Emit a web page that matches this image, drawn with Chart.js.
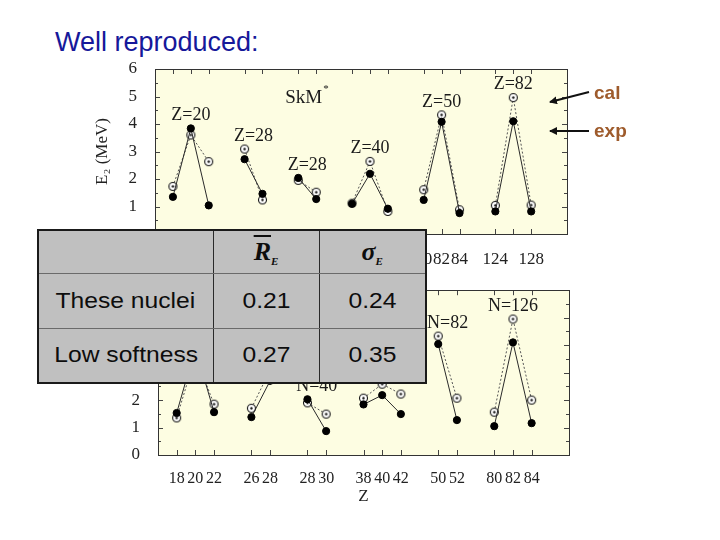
<!DOCTYPE html>
<html>
<head>
<meta charset="utf-8">
<script src="https://cdn.jsdelivr.net/npm/chart.js@4/dist/chart.umd.min.js"></script>
<style>
html,body{margin:0;padding:0;background:#fff;}
body{width:720px;height:540px;position:relative;overflow:hidden;font-family:"Liberation Sans",Arial,sans-serif;}
#title{position:absolute;left:55px;top:27px;font-size:27px;line-height:30px;color:#16189a;white-space:nowrap;}
canvas{position:absolute;left:0;}
#cTop{top:0;}
#cBot{top:270px;}
#tbl{position:absolute;left:37px;top:229px;width:388px;height:154px;border-collapse:collapse;background:#c0c0c0;border:2px solid #1a1a1a;table-layout:fixed;}
#tbl td{text-align:center;vertical-align:middle;padding:0;border-left:1.5px solid #2a2a2a;border-right:1.5px solid #2a2a2a;border-top:1px solid #6a6a6a;border-bottom:1px solid #6a6a6a;color:#0d0d0d;font-size:22px;}
#tbl td span.s{display:inline-block;transform:scaleX(1.12);}
#tbl td.m{font-family:"Liberation Serif","Times New Roman",serif;font-weight:bold;font-style:italic;font-size:26px;}
#tbl td.m sub{font-size:11px;vertical-align:-5px;}
.ov{text-decoration:overline;}
.lab{position:absolute;font-weight:bold;font-size:19px;color:#9e5b2c;line-height:20px;}
svg{position:absolute;left:0;top:0;}
</style>
</head>
<body>
<div id="title">Well reproduced:</div>
<canvas id="cTop" width="720" height="264"></canvas>
<canvas id="cBot" width="720" height="250"></canvas>
<table id="tbl"></table>
<svg width="720" height="540">
  <defs>
    <marker id="ah" markerWidth="8" markerHeight="8" refX="7" refY="4" orient="auto" markerUnits="userSpaceOnUse">
      <path d="M0,0 L8,4 L0,8 z" fill="#111"/>
    </marker>
  </defs>
  <line x1="589" y1="92" x2="550" y2="102" stroke="#111" stroke-width="2" marker-end="url(#ah)"/>
  <line x1="589" y1="131" x2="550" y2="131" stroke="#111" stroke-width="2" marker-end="url(#ah)"/>
</svg>
<div class="lab" style="left:594px;top:83px;">cal</div>
<div class="lab" style="left:594px;top:121px;">exp</div>

<script>
// ---------- data: top panel (isotopes, E2 vs N) ----------
const topGroupLabels = ['Z=20', 'Z=28', 'Z=28', 'Z=40', 'Z=50', 'Z=82'];
const topN   = [[26, 28, 30], [28, 30], [40, 42], [48, 50, 52], [80, 82, 84], [124, 126, 128]];
const topTickLabels = [['26', '28', '30'], ['28', '30'], ['40', '42'], ['48', '50', '52'], ['80', '82', '84'], ['124', '', '128']];
const topExp = [[1.35, 3.84, 1.04], [2.72, 1.46], [2.04, 1.27], [1.10, 2.19, 0.92], [1.24, 4.08, 0.76], [0.82, 4.10, 0.82]];
const topCal = [[1.73, 3.60, 2.63], [3.09, 1.24], [1.95, 1.52], [1.12, 2.64, 0.82], [1.61, 4.33, 0.88], [1.04, 4.96, 1.05]];

// ---------- data: bottom panel (isotones, E2 vs Z) ----------
const botGroupLabels = ['N=20', 'N=28', 'N=40', 'N=50', 'N=82', 'N=126'];
const botZ   = [[18, 20, 22], [26, 28], [28, 30], [38, 40, 42], [50, 52], [80, 82, 84]];
const botExp = [[1.53, 3.90, 1.56], [1.38, 2.70], [2.03, 0.87], [1.84, 2.18, 1.49], [4.04, 1.27], [1.05, 4.10, 1.16]];
const botCal = [[1.35, 3.60, 1.85], [1.70, 3.09], [1.90, 1.49], [2.07, 2.58, 2.22], [4.33, 2.07], [1.56, 4.95, 2.00]];

// ---------- table ----------
const tableRows  = ['These nuclei', 'Low softness'];
const tableRE    = ['0.21', '0.27'];
const tableSigma = ['0.24', '0.35'];

// build table
(function(){
  const t = document.getElementById('tbl');
  let h = '<colgroup><col style="width:175px"><col style="width:106px"><col style="width:107px"></colgroup>';
  h += '<tr style="height:43px"><td></td><td class="m"><span class="ov">R</span><sub>E</sub></td><td class="m">&sigma;<sub>E</sub></td></tr>';
  tableRows.forEach((r, i) => {
    h += '<tr style="height:55px"><td><span class="s">' + r + '</span></td><td><span class="s">' + tableRE[i] + '</span></td><td><span class="s">' + tableSigma[i] + '</span></td></tr>';
  });
  t.innerHTML = h;
})();

// slot layout: groups placed side by side with one empty slot between groups
function buildPanel(groups, tickLabels, exp, cal) {
  const slots = []; const tickMap = {}; const expData = []; const calData = []; const groupSlots = [];
  let s = 0;
  groups.forEach((g, gi) => {
    const gs = [];
    g.forEach((v, i) => {
      slots.push(s); gs.push(s);
      tickMap[s] = tickLabels[gi][i];
      expData.push({x: s, y: exp[gi][i]});
      calData.push({x: s, y: cal[gi][i]});
      s++;
    });
    groupSlots.push(gs);
    expData.push({x: s, y: null});
    calData.push({x: s, y: null});
    s++;
  });
  expData.pop(); calData.pop();
  return {slots, tickMap, expData, calData, groupSlots, maxSlot: s - 1};
}

function makeCalPoint() {
  const c = document.createElement('canvas'); c.width = 11; c.height = 11;
  const g = c.getContext('2d');
  g.beginPath(); g.arc(5.5, 5.5, 4, 0, Math.PI * 2);
  g.fillStyle = '#fff'; g.fill(); g.lineWidth = 1.1; g.strokeStyle = '#111'; g.stroke();
  g.beginPath(); g.arc(5.5, 5.5, 1.2, 0, Math.PI * 2); g.fillStyle = '#111'; g.fill();
  return c;
}
const calPoint = makeCalPoint();
const SERIF = '"Liberation Serif", "Times New Roman", serif';

function makeFrame(panel, labels, exp, cal, extras) {
  return {
    id: 'frame',
    beforeDraw(chart) {
      const {ctx, chartArea: a} = chart;
      ctx.save();
      ctx.fillStyle = '#fdfde2';
      ctx.fillRect(a.left, a.top, a.right - a.left, a.bottom - a.top);
      ctx.restore();
    },
    beforeDatasetsDraw(chart) {
      const {ctx, chartArea: a, scales: {x, y}} = chart;
      ctx.save();
      ctx.strokeStyle = '#444'; ctx.lineWidth = 1;
      ctx.beginPath();
      panel.slots.forEach(s => {
        const px = Math.round(x.getPixelForValue(s)) + 0.5;
        ctx.moveTo(px, a.bottom); ctx.lineTo(px, a.bottom - 5);
        ctx.moveTo(px, a.top); ctx.lineTo(px, a.top + 5);
      });
      for (let v = 0.5; v < 6; v += 0.5) {
        const py = Math.round(y.getPixelForValue(v)) + 0.5;
        const len = Number.isInteger(v) ? 5 : 3;
        ctx.moveTo(a.left, py); ctx.lineTo(a.left + len, py);
        ctx.moveTo(a.right, py); ctx.lineTo(a.right - len, py);
      }
      ctx.stroke();
      ctx.strokeStyle = '#333';
      ctx.strokeRect(Math.round(a.left) + 0.5, Math.round(a.top) + 0.5, Math.round(a.right - a.left), Math.round(a.bottom - a.top));
      ctx.restore();
    },
    afterDatasetsDraw(chart) {
      const {ctx, scales: {x, y}} = chart;
      ctx.save();
      ctx.fillStyle = '#1a1a1a';
      ctx.font = '18px ' + SERIF;
      ctx.textAlign = 'center'; ctx.textBaseline = 'middle';
      panel.groupSlots.forEach((gs, gi) => {
        const cx = gs.reduce((t, s) => t + x.getPixelForValue(s), 0) / gs.length;
        const mx = Math.max(...exp[gi], ...cal[gi]);
        const cy = y.getPixelForValue(mx) - 13;
        ctx.fillText(labels[gi], cx, cy);
      });
      (extras || []).forEach(e => {
        ctx.font = e.size + 'px ' + SERIF;
        const px = x.getPixelForValue(e.x), py = y.getPixelForValue(e.y);
        ctx.textAlign = 'center';
        ctx.fillText(e.text, px, py);
        if (e.sup) {
          const w = ctx.measureText(e.text).width;
          ctx.font = Math.round(e.size * 0.6) + 'px ' + SERIF;
          ctx.textAlign = 'left';
          ctx.fillText(e.sup, px + w / 2 + 1, py - 9);
        }
      });
      ctx.restore();
    }
  };
}

function makeChart(id, panel, labels, exp, cal, cfg) {
  return new Chart(document.getElementById(id), {
    type: 'line',
    data: {
      datasets: [
        {label: 'exp', data: panel.expData, borderColor: '#2a2a2a', borderWidth: 1,
         pointStyle: 'circle', pointRadius: 3.6, pointBackgroundColor: '#000', pointBorderColor: '#000',
         pointBorderWidth: 1, spanGaps: false, tension: 0},
        {label: 'cal', data: panel.calData, borderColor: '#555', borderWidth: 1, borderDash: [2, 2],
         pointStyle: calPoint, pointRadius: 5, spanGaps: false, tension: 0}
      ]
    },
    options: {
      responsive: false, animation: false, parsing: true,
      layout: {padding: cfg.padding},
      plugins: {legend: {display: false}, tooltip: {enabled: false}},
      scales: {
        x: {
          type: 'linear', min: -1, max: panel.maxSlot + 1,
          afterBuildTicks: s => { s.ticks = panel.slots.map(v => ({value: v})); },
          afterFit: s => { s.height = cfg.xHeight; },
          grid: {display: false}, border: {display: false},
          ticks: {autoSkip: false, maxRotation: 0, minRotation: 0, padding: cfg.xPad, color: '#222',
                  font: {family: SERIF, size: cfg.xFont}, callback: v => panel.tickMap[v] !== undefined ? panel.tickMap[v] : ''},
          title: cfg.xTitle ? {display: true, text: cfg.xTitle, color: '#222', font: {family: SERIF, size: 17},
                  padding: {top: 4, bottom: cfg.xTitlePadBottom}} : {display: false}
        },
        y: {
          min: 0, max: 6,
          afterFit: s => { s.width = cfg.yWidth; },
          grid: {display: false}, border: {display: false},
          ticks: {stepSize: 1, padding: 10, color: '#222', font: {family: SERIF, size: 17},
                  callback: v => (v < cfg.yLabelFrom ? '' : String(v))},
          title: {display: true, text: cfg.yTitle, color: '#222', font: {family: SERIF, size: 17}, padding: {top: 4, bottom: 4}}
        }
      }
    },
    plugins: [makeFrame(panel, labels, exp, cal, cfg.extras)]
  });
}

const topPanel = buildPanel(topN, topTickLabels, topExp, topCal);
const botPanel = buildPanel(botZ, botZ.map(g => g.map(String)), botExp, botCal);

makeChart('cTop', topPanel, topGroupLabels, topExp, topCal, {
  padding: {left: 88, right: 153, top: 69, bottom: 0},
  xHeight: 30, xPad: 7, xFont: 17, yWidth: 67, yTitle: 'E\u2082 (MeV)', yLabelFrom: 1,
  extras: [{text: 'SkM', sup: '*', x: 7.3, y: 4.95, size: 19}]
});
makeChart('cBot', botPanel, botGroupLabels, botExp, botCal, {
  padding: {left: 93, right: 151, top: 19, bottom: 0},
  xHeight: 65, xPad: 6, xFont: 16, yWidth: 65, yTitle: 'E\u2082', yLabelFrom: 0,
  xTitle: 'Z', xTitlePadBottom: 13
});
</script>
</body>
</html>
